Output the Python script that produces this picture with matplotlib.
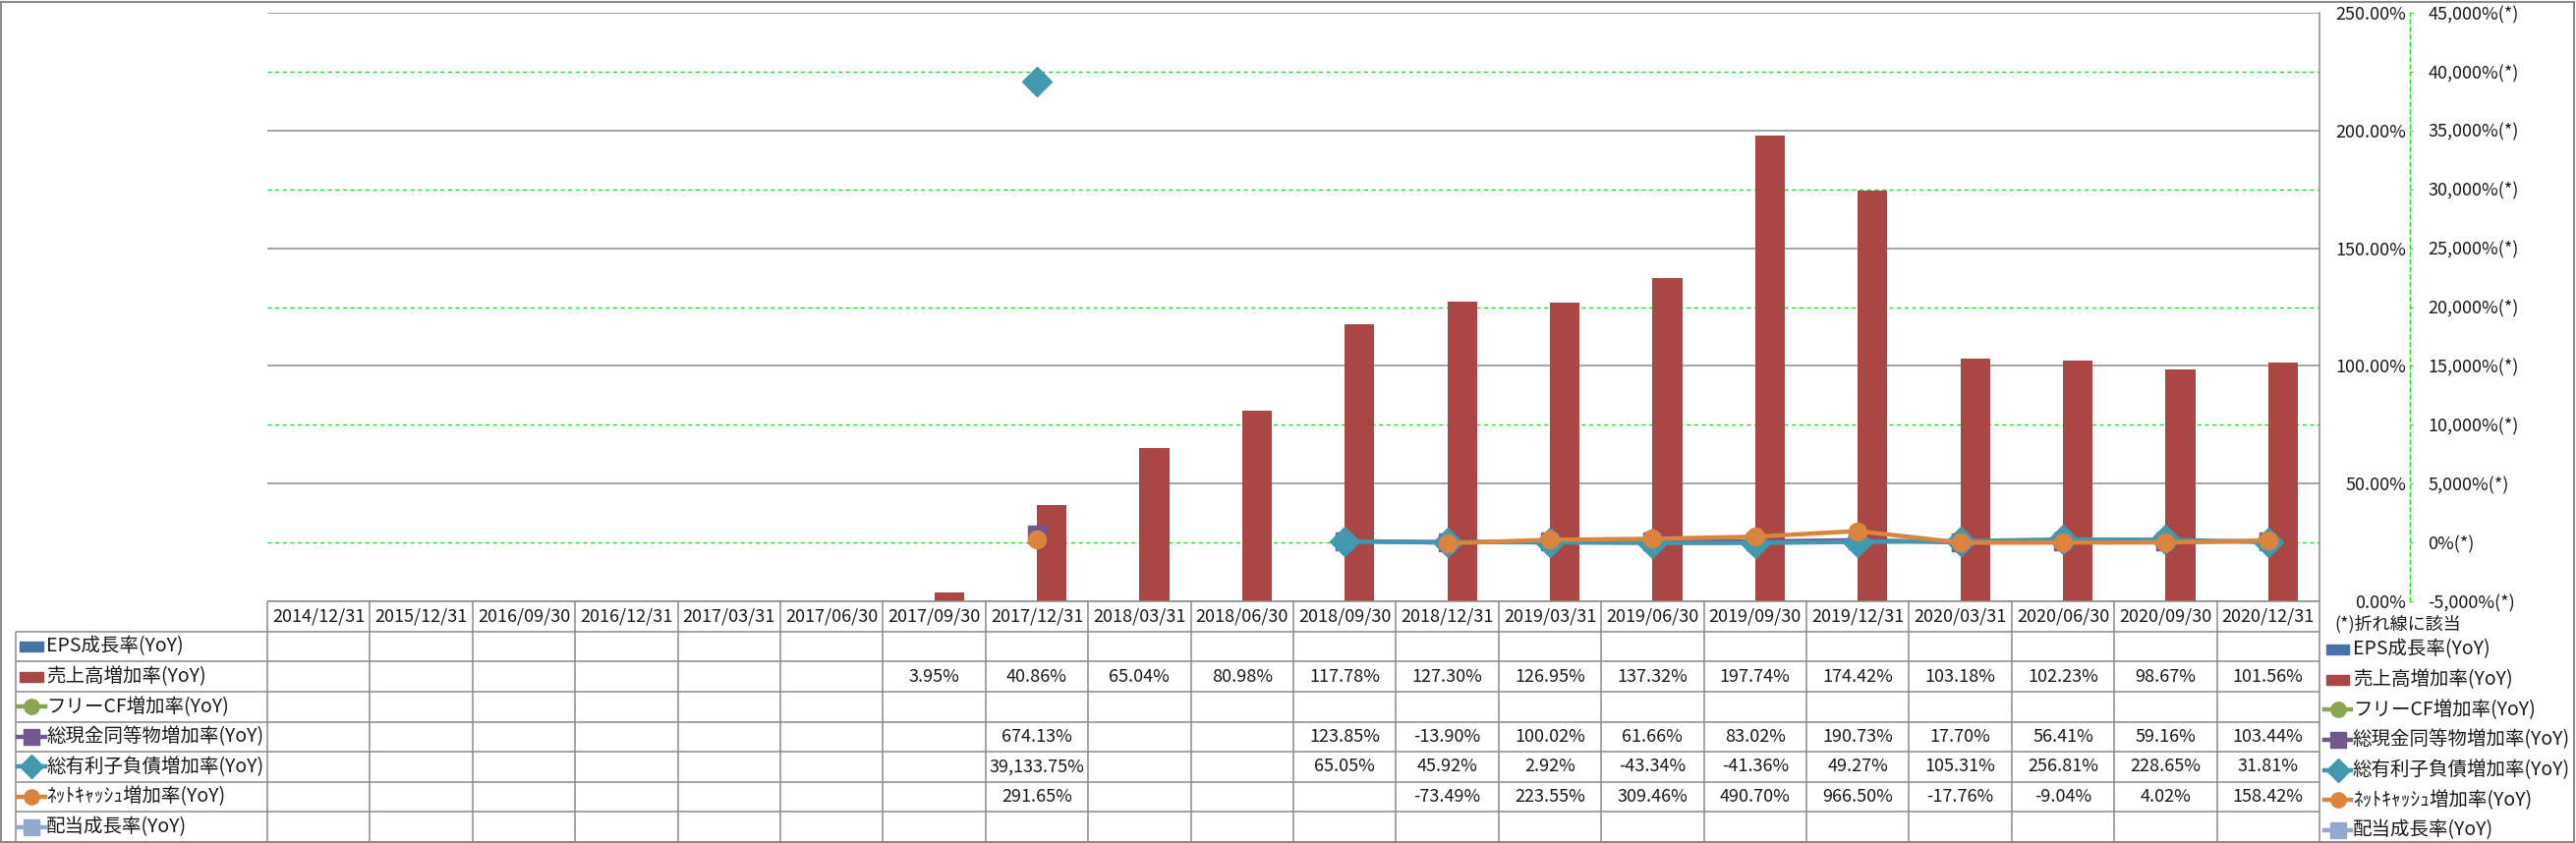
import numpy as np
import matplotlib
matplotlib.use('Agg')
import matplotlib.pyplot as plt
from matplotlib.patches import Rectangle
from matplotlib.lines import Line2D

plt.rcParams['font.family'] = ['Noto Sans CJK JP', 'DejaVu Sans']


dates = ['2014/12/31', '2015/12/31', '2016/09/30', '2016/12/31', '2017/03/31',
         '2017/06/30', '2017/09/30', '2017/12/31', '2018/03/31', '2018/06/30',
         '2018/09/30', '2018/12/31', '2019/03/31', '2019/06/30', '2019/09/30',
         '2019/12/31', '2020/03/31', '2020/06/30', '2020/09/30', '2020/12/31']

names = ['EPS成長率(YoY)', '売上高増加率(YoY)', 'フリーCF増加率(YoY)',
         '総現金同等物増加率(YoY)', '総有利子負債増加率(YoY)',
         'ﾈｯﾄｷｬｯｼｭ増加率(YoY)', '配当成長率(YoY)']

N = None
eps = [N] * 20
sales = [N, N, N, N, N, N, 3.95, 40.86, 65.04, 80.98, 117.78, 127.30, 126.95,
         137.32, 197.74, 174.42, 103.18, 102.23, 98.67, 101.56]
free_cf = [N] * 20
cash = [N, N, N, N, N, N, N, 674.13, N, N, 123.85, -13.90, 100.02, 61.66,
        83.02, 190.73, 17.70, 56.41, 59.16, 103.44]
debt = [N, N, N, N, N, N, N, 39133.75, N, N, 65.05, 45.92, 2.92, -43.34,
        -41.36, 49.27, 105.31, 256.81, 228.65, 31.81]
net_cash = [N, N, N, N, N, N, N, 291.65, N, N, N, -73.49, 223.55, 309.46,
            490.70, 966.50, -17.76, -9.04, 4.02, 158.42]
dividend = [N] * 20

all_series = [eps, sales, free_cf, cash, debt, net_cash, dividend]
colors = ['#4572A7', '#AA4643', '#89A54E', '#71588F', '#4198AF', '#DB843D', '#93A9CF']
kinds = ['bar', 'bar', 'o', 's', 'D', 'o', 's']

prim_ticks = np.arange(0, 251, 50)
sec_ticks = np.arange(-5000, 45001, 5000)


def arr(v):
    return np.array([np.nan if a is None else a for a in v], dtype=float)


W, H = 2621, 858
GRAY = '#8c8c8c'
GREEN = '#1ee01e'
TXT = '#1a1a1a'
FS = 13
FS_LEG = 14

def px_rect(l, t, r, b):
    return [l / W, 1 - b / H, (r - l) / W, (b - t) / H]


fig = plt.figure(figsize=(W / 100, H / 100), dpi=100)
fig.patches.append(Rectangle((1 / W, 1 / H), (W - 3) / W, (H - 3) / H,
                             transform=fig.transFigure, fill=False,
                             edgecolor=GRAY, lw=1.5))

L, R, T, B = 272, 2360, 13, 612
ax = fig.add_axes(px_rect(L, T, R, B))
x = np.arange(len(dates))
ax.set_xlim(-0.5, len(dates) - 0.5)
ax.set_ylim(0, 250)

bw = 0.29
ax.bar(x - bw / 2, arr(eps), bw, color=colors[0], zorder=2)
ax.bar(x + bw / 2, arr(sales), bw, color=colors[1], zorder=2)

ax2 = ax.twinx()
ax2.set_ylim(-5000, 45000)
for vals, c, m in zip(all_series[2:], colors[2:], kinds[2:]):
    ms = 15 if m == 'D' else 13
    ax2.plot(x, arr(vals), color=c, lw=3.2, marker=m, ms=ms, solid_capstyle='round')

# grid : gris = axe principal, vert pointille = axe secondaire
minor = [(s + 5000) / 200 for s in sec_ticks if ((s + 5000) / 200) % 50 != 0]
ax.set_yticks(prim_ticks)
ax.set_yticks(minor, minor=True)
ax.grid(axis='y', which='major', color=GRAY, lw=1.1, zorder=0)
ax.grid(axis='y', which='minor', color=GREEN, lw=1.0, ls=(0, (3, 2.5)), zorder=0)
ax.set_axisbelow(True)
ax.yaxis.tick_right()
ax.set_yticklabels([f'{v:.2f}%' for v in prim_ticks], ha='right')
ax.tick_params(axis='y', which='major', length=0, pad=88 / 1.389, labelsize=FS,
               labelcolor=TXT, left=False, labelleft=False, right=True,
               labelright=True)
ax.tick_params(axis='y', which='minor', length=0, left=False, right=False)
ax.tick_params(axis='x', length=0, labelbottom=False)
for s in ['top', 'left', 'bottom']:
    ax.spines[s].set_visible(False)
ax.spines['right'].set_color(GRAY)
ax.spines['right'].set_linewidth(1.1)

ax2.set_yticks(sec_ticks)
ax2.set_yticklabels([f'{v:,.0f}%(*)' for v in sec_ticks])
ax2.tick_params(axis='y', length=2.2, color=GREEN, pad=11, labelsize=FS,
                labelcolor=TXT)
ax2.get_yticklabels()[0].set_color('red')
ax2.tick_params(axis='x', length=0, labelbottom=False)
for s in ['top', 'left', 'bottom']:
    ax2.spines[s].set_visible(False)
ax2.spines['right'].set_position(('axes', (2452 - L) / (R - L)))
ax2.spines['right'].set_color(GREEN)
ax2.spines['right'].set_linestyle((0, (3, 2.5)))
ax2.spines['right'].set_linewidth(1.0)

# tableau de donnees
cw = (R - L) / len(dates)
TL, TB = 16, 857
x0 = -0.5 - (L - TL) / cw
nrow = len(names) + 1
rh = (TB - B) / nrow
tb = fig.add_axes(px_rect(TL, B, R, TB))
tb.set_xlim(x0, len(dates) - 0.5)
tb.set_ylim(nrow, 0)
tb.axis('off')

kw = dict(color=GRAY, lw=1.1, clip_on=False)
tb.hlines(0, -0.5, len(dates) - 0.5, **kw)
tb.hlines(np.arange(1, nrow + 1), x0, len(dates) - 0.5, **kw)
tb.vlines(np.arange(-0.5, len(dates), 1), 0, nrow, **kw)
tb.vlines(x0, 1, nrow, **kw)

for i, d in enumerate(dates):
    tb.text(i, 0.5, d, ha='center', va='center', fontsize=FS, color=TXT)

for r, vals in enumerate(all_series):
    for i, v in enumerate(vals):
        if v is not None:
            tb.text(i, r + 1.5, f'{v:,.2f}%', ha='center', va='center',
                    fontsize=FS, color=TXT)


def handle(xa, xb, yc, c, k):
    if k == 'bar':
        hh = 10 / rh
        tb.add_patch(Rectangle((xa + 2 / cw, yc - hh / 2), (xb - xa) - 4 / cw, hh,
                               color=c, clip_on=False))
    else:
        tb.add_line(Line2D([xa, xb], [yc, yc], color=c, lw=3.2, clip_on=False))
        tb.add_line(Line2D([(xa + xb) / 2], [yc], color=c, marker=k,
                           ms=12 if k == 'D' else 11, clip_on=False))


for r, (nm, c, k) in enumerate(zip(names, colors, kinds)):
    yc = r + 1.5
    # colonne de gauche
    handle(x0 + 2 / cw, x0 + 30 / cw, yc, c, k)
    tb.text(x0 + 31 / cw, yc, nm, ha='left', va='center', fontsize=FS_LEG, color=TXT)
    # legende de droite
    xr = len(dates) - 0.5
    handle(xr + 5 / cw, xr + 32 / cw, yc + 0.1, c, k)
    tb.text(xr + 34 / cw, yc + 0.1, nm, ha='left', va='center', fontsize=FS_LEG,
            color=TXT, clip_on=False)

tb.text(len(dates) - 0.5 + 15 / cw, 0.5 + 8 / rh, '(*)折れ線に該当', ha='left',
        va='center', fontsize=FS, color=TXT, clip_on=False)

fig.savefig('out.png', dpi=100)
